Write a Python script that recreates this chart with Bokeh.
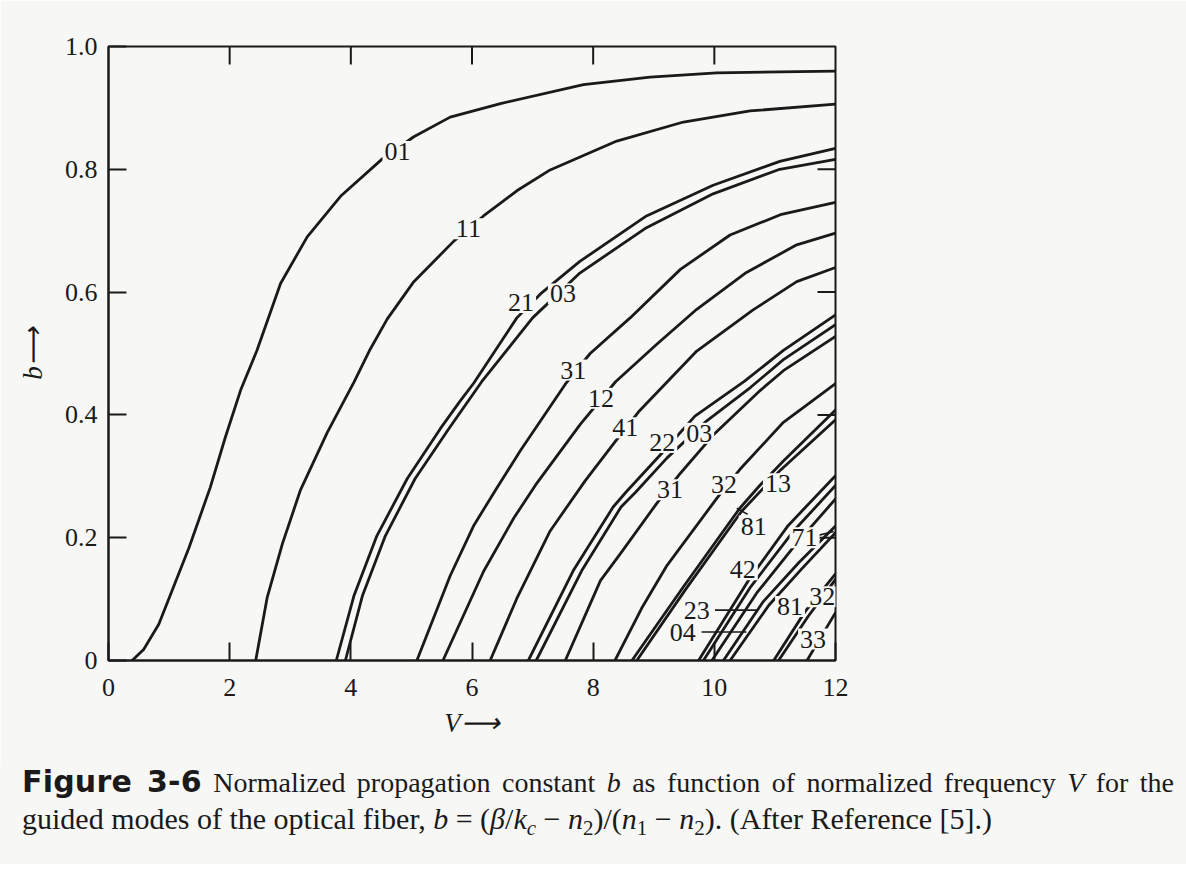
import math
from bokeh.plotting import figure
from bokeh.models import Range1d, FixedTicker, Label, Div, CustomJSTickFormatter
from bokeh.layouts import column
from bokeh.embed import file_html
from bokeh.resources import INLINE

BG = "#f7f7f5"
INK = "#1a1a1a"

# ---- data: normalized frequency V and normalized propagation constant b, per mode curve ----
V_01 = [0.39, 0.58, 0.83, 1.05, 1.33, 1.68, 1.93, 2.18, 2.45, 2.84, 3.28, 3.83, 4.52, 5.04, 5.64, 6.47, 7.84, 8.94, 10.04, 12.0]
B_01 = [0.0, 0.018, 0.059, 0.114, 0.184, 0.282, 0.364, 0.44, 0.505, 0.614, 0.69, 0.756, 0.817, 0.853, 0.885, 0.907, 0.938, 0.95, 0.957, 0.96]

V_11 = [2.43, 2.62, 2.87, 3.17, 3.61, 4.05, 4.32, 4.6, 5.04, 5.7, 6.19, 6.74, 7.29, 8.39, 9.49, 10.59, 12.0]
B_11 = [0.0, 0.103, 0.19, 0.278, 0.371, 0.453, 0.507, 0.556, 0.617, 0.683, 0.724, 0.765, 0.799, 0.846, 0.877, 0.895, 0.906]

V_21 = [3.76, 4.05, 4.43, 4.93, 5.48, 5.8, 6.03, 6.74, 7.13, 7.78, 8.88, 9.98, 11.08, 12.0]
B_21 = [0.0, 0.105, 0.203, 0.296, 0.378, 0.422, 0.452, 0.558, 0.597, 0.65, 0.724, 0.774, 0.813, 0.834]

V_02 = [3.91, 4.19, 4.57, 5.06, 5.62, 6.16, 7.0, 7.78, 8.88, 9.98, 11.08, 12.0]
B_02 = [0.0, 0.105, 0.203, 0.296, 0.378, 0.454, 0.558, 0.631, 0.705, 0.76, 0.8, 0.816]

V_31 = [5.09, 5.64, 6.03, 6.41, 6.8, 7.54, 7.95, 8.61, 9.44, 10.26, 11.09, 12.0]
B_31 = [0.0, 0.138, 0.22, 0.281, 0.342, 0.45, 0.5, 0.558, 0.637, 0.693, 0.726, 0.746]

V_12 = [5.52, 6.19, 6.69, 7.05, 7.79, 8.37, 9.05, 9.71, 10.53, 11.36, 12.0]
B_12 = [0.0, 0.145, 0.232, 0.286, 0.385, 0.454, 0.515, 0.572, 0.632, 0.677, 0.696]

V_41 = [6.30, 6.74, 7.29, 7.87, 8.36, 8.75, 9.71, 10.64, 11.36, 12.0]
B_41 = [0.0, 0.101, 0.211, 0.293, 0.356, 0.405, 0.504, 0.571, 0.617, 0.64]

V_22 = [6.93, 7.67, 8.33, 8.54, 9.11, 9.68, 10.5, 11.14, 12.0]
B_22 = [0.0, 0.146, 0.25, 0.274, 0.335, 0.398, 0.455, 0.505, 0.563]

V_03 = [7.06, 7.81, 8.46, 8.70, 9.22, 9.87, 10.6, 11.14, 12.0]
B_03 = [0.0, 0.146, 0.25, 0.274, 0.33, 0.39, 0.445, 0.49, 0.547]

V_51 = [7.54, 8.12, 8.45, 9.05, 9.44, 9.99, 10.76, 11.14, 12.0]
B_51 = [0.0, 0.13, 0.174, 0.256, 0.305, 0.368, 0.44, 0.472, 0.528]

V_32 = [8.36, 8.8, 9.22, 10.04, 10.42, 11.14, 12.0]
B_32 = [0.0, 0.085, 0.155, 0.264, 0.311, 0.388, 0.451]

V_13 = [8.64, 9.49, 10.42, 10.75, 11.14, 12.0]
B_13 = [0.0, 0.12, 0.248, 0.285, 0.325, 0.408]

V_61 = [8.72, 9.52, 10.45, 11.09, 12.0]
B_61 = [0.0, 0.115, 0.243, 0.31, 0.392]

V_42 = [9.74, 10.56, 11.22, 12.0]
B_42 = [0.0, 0.13, 0.22, 0.301]

V_71a = [9.82, 10.6, 11.3, 12.0]
B_71a = [0.0, 0.12, 0.21, 0.285]

V_71 = [9.96, 10.7, 11.35, 12.0]
B_71 = [0.0, 0.11, 0.19, 0.263]

V_23 = [10.15, 10.8, 11.4, 12.0]
B_23 = [0.0, 0.095, 0.16, 0.219]

V_04 = [10.26, 10.9, 11.45, 12.0]
B_04 = [0.0, 0.09, 0.15, 0.208]

V_52 = [10.98, 11.5, 12.0]
B_52 = [0.0, 0.08, 0.141]

V_81 = [11.06, 11.55, 12.0]
B_81 = [0.0, 0.072, 0.132]

V_33 = [11.53, 11.8, 12.0]
B_33 = [0.0, 0.045, 0.078]

# curve labels as printed in the figure
LABEL_TEXT = ["01", "11", "21", "03", "31", "12", "41", "22", "03", "31",
              "32", "13", "81", "71", "42", "23", "04", "81", "32", "33"]
LABEL_V = [4.77, 5.94, 6.81, 7.50, 7.67, 8.13, 8.53, 9.14, 9.75, 9.27,
           10.16, 11.05, 10.65, 11.49, 10.47, 9.71, 9.48, 11.25, 11.78, 11.63]
LABEL_B = [0.829, 0.703, 0.583, 0.597, 0.473, 0.427, 0.379, 0.355, 0.37, 0.278,
           0.287, 0.288, 0.219, 0.2, 0.148, 0.082, 0.045, 0.088, 0.104, 0.035]

# leader strokes from labels to their curves
LEAD_V0 = [10.01, 9.79, 10.37, 11.68]
LEAD_B0 = [0.082, 0.0465, 0.248, 0.203]
LEAD_V1 = [10.70, 10.53, 10.55, 11.97]
LEAD_B1 = [0.082, 0.0465, 0.238, 0.21]

X_TICKS = [0, 2, 4, 6, 8, 10, 12]
Y_TICKS = [0, 0.2, 0.4, 0.6, 0.8, 1.0]
TOP_TICKS = [2, 4, 6, 8, 10]
RIGHT_TICKS = [0.2, 0.4, 0.6, 0.8]

CURVES = [(V_01, B_01), (V_11, B_11), (V_21, B_21), (V_02, B_02), (V_31, B_31),
          (V_12, B_12), (V_41, B_41), (V_22, B_22), (V_03, B_03), (V_51, B_51),
          (V_32, B_32), (V_13, B_13), (V_61, B_61), (V_42, B_42), (V_71a, B_71a),
          (V_71, B_71), (V_23, B_23), (V_04, B_04), (V_52, B_52), (V_81, B_81),
          (V_33, B_33)]

p = figure(width=1186, height=764, x_range=Range1d(0, 12), y_range=Range1d(0, 1),
           output_backend="svg", toolbar_location=None,
           min_border_left=108, min_border_right=351, min_border_top=46, min_border_bottom=104,
           background_fill_color=BG, border_fill_color=BG,
           outline_line_color=INK, outline_line_width=2)
p.grid.visible = False

def style_axis(ax, ticks):
    ax.ticker = FixedTicker(ticks=ticks)
    ax.major_tick_in = 18
    ax.major_tick_out = 0
    ax.minor_tick_in = 0
    ax.minor_tick_out = 0
    ax.axis_line_width = 2
    ax.axis_line_color = INK
    ax.major_tick_line_width = 2
    ax.major_tick_line_color = INK
    ax.major_label_text_font = "Liberation Serif"
    ax.major_label_text_font_size = "26px"
    ax.major_label_text_color = INK
    ax.axis_label_text_font = "Liberation Serif"
    ax.axis_label_text_font_size = "27px"
    ax.axis_label_text_font_style = "italic"
    ax.axis_label_text_color = INK

xa = p.xaxis[0]
ya = p.yaxis[0]
style_axis(xa, X_TICKS)
style_axis(ya, Y_TICKS)
ya.formatter = CustomJSTickFormatter(code="return tick == 0 ? '0' : tick.toFixed(1);")
xa.major_label_standoff = 18
ya.major_label_standoff = 11
xa.axis_label = "V\u27f6"
ya.axis_label = "b\u27f6"
xa.axis_label_standoff = 9
ya.axis_label_standoff = 14

# inner ticks on the top and right sides of the frame
p.ray(x=TOP_TICKS, y=[1.0] * len(TOP_TICKS), length=18, length_units="screen",
      angle=-math.pi / 2, line_width=2, line_color=INK)
p.ray(x=[12.0] * len(RIGHT_TICKS), y=RIGHT_TICKS, length=18, length_units="screen",
      angle=math.pi, line_width=2, line_color=INK)

for vs, bs in CURVES:
    p.line(vs, bs, line_width=2.8, line_color=INK, line_join="round", line_cap="round")

p.segment(x0=LEAD_V0, y0=LEAD_B0, x1=LEAD_V1, y1=LEAD_B1, line_width=1.6, line_color=INK)

for t, xv, yv in zip(LABEL_TEXT, LABEL_V, LABEL_B):
    p.add_layout(Label(x=xv, y=yv, text=t, text_font="Liberation Serif", text_font_size="26px",
                       text_align="center", text_baseline="middle", text_color=INK,
                       background_fill_color=BG, padding=2))

SUB = 'style="font-size:0.7em;vertical-align:-0.3em;line-height:0;"'
caption = Div(
    text=('<div style="width:1152px;font-size:28px;text-align:justify;text-align-last:justify;white-space:normal;">'
          '<span style="font-family:\'DejaVu Sans\';font-weight:bold;font-size:30px;letter-spacing:0.2px;">Figure 3-6</span>'
          ' Normalized propagation constant <i>b</i> as function of normalized frequency <i>V</i> for the</div>'
          '<div>guided modes of the optical fiber, <i>b</i> = (<i>&beta;</i>/<i>k</i><sub ' + SUB + '><i>c</i></sub> &minus; <i>n</i><sub ' + SUB + '>2</sub>)/'
          '(<i>n</i><sub ' + SUB + '>1</sub> &minus; <i>n</i><sub ' + SUB + '>2</sub>). (After Reference [5].)</div>'),
    width=1186, height=100,
    styles={"font-family": "Liberation Serif", "font-size": "30px", "line-height": "36px",
            "color": INK, "padding-left": "22px", "white-space": "nowrap",
            "background-color": BG, "margin": "0"})

layout = column(p, caption, spacing=0)
open("out.html", "w").write(file_html(layout, INLINE))
